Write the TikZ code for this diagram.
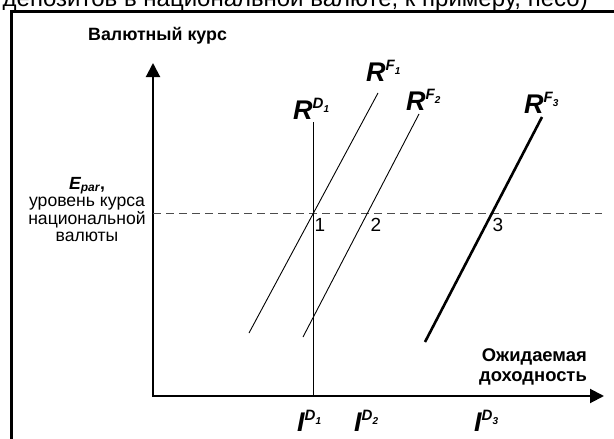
\documentclass[tikz,border=0pt]{standalone}
\usepackage{fontspec}
\setmainfont{Liberation Sans}
\usetikzlibrary{arrows.meta}
\newcommand\lblsup[3]{#1\raisebox{0.38em}{\fontsize{15}{15}\selectfont #2\raisebox{-0.25em}{\fontsize{10}{10}\selectfont #3}}}
\begin{document}
\begin{tikzpicture}[x=1pt,y=-1pt,
  frame/.style={line width=3pt},
  axis/.style={line width=2pt,{Triangle[length=14pt,width=14pt]}-{Triangle[length=14pt,width=14pt]}},
  thinline/.style={line width=0.9pt},
  thickline/.style={line width=2.6pt},
  guide/.style={line width=0.8pt,draw=black!70,dash pattern=on 8pt off 5pt},
  curvelbl/.style={font=\fontsize{27}{27}\selectfont\bfseries\itshape,inner sep=0pt,anchor=base west},
  ptlbl/.style={font=\fontsize{19}{19}\selectfont,inner sep=0pt},
  axlbl/.style={font=\fontsize{17.8}{17.8}\selectfont\bfseries,inner sep=0pt},
  sidelbl/.style={font=\fontsize{17.6}{17.5}\selectfont,inner sep=0pt,align=center}
]
\useasboundingbox (0,0) rectangle (614,439);
% cropped caption line at the top
\begin{scope}
  \clip (0,0) rectangle (614,9);
  \node[anchor=base east,inner sep=0pt,font=\fontsize{24}{24}\selectfont] (cap) at (588,6) {депозитов в национальной валюте, к примеру, песо)};
\end{scope}
% frame
\draw[frame] (11.5,445) -- (11.5,11.5) -- (620,11.5);
% axes
\coordinate (O) at (153,396);
\coordinate (Ytop) at (153,63);
\coordinate (Xend) at (604,396);
\draw[axis] (Ytop) -- (O) -- (Xend);
% dashed level
\coordinate (DL) at (153,213);
\coordinate (DR) at (602,213);
\draw[guide] (DL) -- (DR);
% curves
\coordinate (D1t) at (313,122);
\coordinate (D1b) at (313,396);
\draw[thinline] (D1t) -- (D1b);
\coordinate (F1t) at (378,93);
\coordinate (F1b) at (249,333);
\draw[thinline] (F1t) -- (F1b);
\coordinate (F2t) at (419,114);
\coordinate (F2b) at (303,337);
\draw[thinline] (F2t) -- (F2b);
\coordinate (F3t) at (542,117);
\coordinate (F3b) at (425,342);
\draw[thickline] (F3t) -- (F3b);
% curve labels
\node[curvelbl] (lD1) at (293,119) {\lblsup{R}{D}{1}};
\node[curvelbl] (lF1) at (366,81) {\lblsup{R}{F}{1}};
\node[curvelbl] (lF2) at (406,110) {\lblsup{R}{F}{2}};
\node[curvelbl] (lF3) at (524,113) {\lblsup{R}{F}{3}};
% intersection numbers
\node[ptlbl] (p1) at (320,225) {1};
\node[ptlbl] (p2) at (376,225) {2};
\node[ptlbl] (p3) at (498,225) {3};
% I labels
\node[curvelbl] (i1) at (297,431) {\lblsup{I}{D}{1}};
\node[curvelbl] (i2) at (354,431) {\lblsup{I}{D}{2}};
\node[curvelbl] (i3) at (474,431) {\lblsup{I}{D}{3}};
% axis titles
\node[axlbl,anchor=base west] (ytitle) at (88,41) {Валютный курс};
\node[axlbl,font=\fontsize{18.4}{20}\selectfont\bfseries,align=right,anchor=north east] (xtitle) at (587,348) {Ожидаемая\\доходность};
% side label
\node[sidelbl,anchor=north] (epar) at (87,177) {\textbf{\textit{E\textsubscript{\fontsize{12}{12}\selectfont par}},}\\уровень курса\\национальной\\валюты};
\end{tikzpicture}
\end{document}
